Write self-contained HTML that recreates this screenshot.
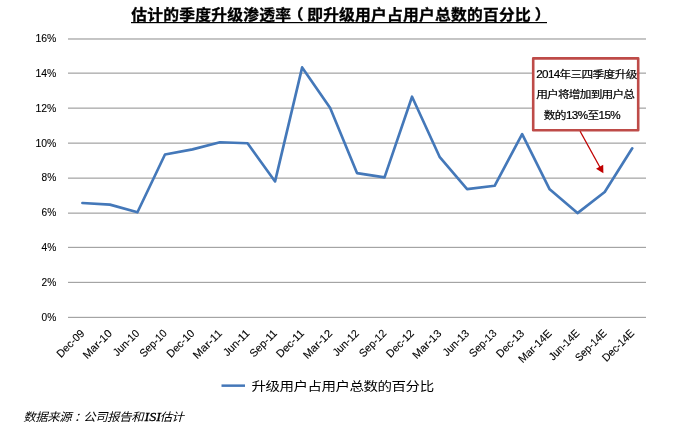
<!DOCTYPE html>
<html lang="zh-CN"><head><meta charset="utf-8"><title>估计的季度升级渗透率</title>
<style>html,body{margin:0;padding:0;background:#fff;}body{width:678px;height:429px;overflow:hidden;}svg{display:block;}</style>
</head><body>
<svg width="678" height="429" viewBox="0 0 678 429">
<rect x="0" y="0" width="678" height="429" fill="#ffffff"/>
<text transform="translate(131.2 19.7) scale(1.08 1)" x="0" y="0" font-family='"Liberation Sans", "Noto Sans CJK SC", sans-serif' font-size="14.6" letter-spacing="0.215" font-weight="bold" fill="#000" stroke="#000" stroke-width="0.3">估计的季度升级渗透率<tspan dx="-3.2">（</tspan><tspan dx="3.2">即升级用户占用户总数的百分比</tspan><tspan dx="3.4">）</tspan></text>
<rect x="131" y="22" width="416" height="1.2" fill="#000"/>
<g shape-rendering="crispEdges">
<rect x="68" y="316" width="578" height="1" fill="#eeeeee"/><rect x="68" y="317" width="578" height="1" fill="#a4a4a4"/>
<rect x="68" y="281" width="578" height="1" fill="#eeeeee"/><rect x="68" y="282" width="578" height="1" fill="#a4a4a4"/>
<rect x="68" y="246" width="578" height="1" fill="#eeeeee"/><rect x="68" y="247" width="578" height="1" fill="#a4a4a4"/>
<rect x="68" y="212" width="578" height="1" fill="#d4d4d4"/><rect x="68" y="213" width="578" height="1" fill="#b9b9b9"/>
<rect x="68" y="177" width="578" height="1" fill="#d4d4d4"/><rect x="68" y="178" width="578" height="1" fill="#b9b9b9"/>
<rect x="68" y="142" width="578" height="1" fill="#d4d4d4"/><rect x="68" y="143" width="578" height="1" fill="#b9b9b9"/>
<rect x="68" y="107" width="578" height="1" fill="#d4d4d4"/><rect x="68" y="108" width="578" height="1" fill="#b9b9b9"/>
<rect x="68" y="72" width="578" height="1" fill="#d4d4d4"/><rect x="68" y="73" width="578" height="1" fill="#b9b9b9"/>
<rect x="68" y="38" width="578" height="1" fill="#c4c4c4"/><rect x="68" y="39" width="578" height="1" fill="#c6c6c6"/>
</g>
<text x="41.60" y="321.20" font-family='"Liberation Sans", "Noto Sans CJK SC", sans-serif' font-size="10.9" fill="#000" stroke="#000" stroke-width="0.1" textLength="14.7" lengthAdjust="spacingAndGlyphs">0%</text>
<text x="41.60" y="286.26" font-family='"Liberation Sans", "Noto Sans CJK SC", sans-serif' font-size="10.9" fill="#000" stroke="#000" stroke-width="0.1" textLength="14.7" lengthAdjust="spacingAndGlyphs">2%</text>
<text x="41.60" y="251.32" font-family='"Liberation Sans", "Noto Sans CJK SC", sans-serif' font-size="10.9" fill="#000" stroke="#000" stroke-width="0.1" textLength="14.7" lengthAdjust="spacingAndGlyphs">4%</text>
<text x="41.60" y="216.39" font-family='"Liberation Sans", "Noto Sans CJK SC", sans-serif' font-size="10.9" fill="#000" stroke="#000" stroke-width="0.1" textLength="14.7" lengthAdjust="spacingAndGlyphs">6%</text>
<text x="41.60" y="181.45" font-family='"Liberation Sans", "Noto Sans CJK SC", sans-serif' font-size="10.9" fill="#000" stroke="#000" stroke-width="0.1" textLength="14.7" lengthAdjust="spacingAndGlyphs">8%</text>
<text x="35.40" y="146.51" font-family='"Liberation Sans", "Noto Sans CJK SC", sans-serif' font-size="10.9" fill="#000" stroke="#000" stroke-width="0.1" textLength="20.9" lengthAdjust="spacingAndGlyphs">10%</text>
<text x="35.40" y="111.57" font-family='"Liberation Sans", "Noto Sans CJK SC", sans-serif' font-size="10.9" fill="#000" stroke="#000" stroke-width="0.1" textLength="20.9" lengthAdjust="spacingAndGlyphs">12%</text>
<text x="35.40" y="76.64" font-family='"Liberation Sans", "Noto Sans CJK SC", sans-serif' font-size="10.9" fill="#000" stroke="#000" stroke-width="0.1" textLength="20.9" lengthAdjust="spacingAndGlyphs">14%</text>
<text x="35.40" y="41.70" font-family='"Liberation Sans", "Noto Sans CJK SC", sans-serif' font-size="10.9" fill="#000" stroke="#000" stroke-width="0.1" textLength="20.9" lengthAdjust="spacingAndGlyphs">16%</text>
<text transform="translate(85.11 334.0) rotate(-45)" x="-34.27" y="0" font-family='"Liberation Sans", "Noto Sans CJK SC", sans-serif' font-size="10.9" fill="#000" stroke="#000" stroke-width="0.1" textLength="34.27" lengthAdjust="spacingAndGlyphs">Dec-09</text>
<text transform="translate(112.64 334.0) rotate(-45)" x="-36.03" y="0" font-family='"Liberation Sans", "Noto Sans CJK SC", sans-serif' font-size="10.9" fill="#000" stroke="#000" stroke-width="0.1" textLength="36.03" lengthAdjust="spacingAndGlyphs">Mar-10</text>
<text transform="translate(140.16 334.0) rotate(-45)" x="-32.27" y="0" font-family='"Liberation Sans", "Noto Sans CJK SC", sans-serif' font-size="10.9" fill="#000" stroke="#000" stroke-width="0.1" textLength="32.27" lengthAdjust="spacingAndGlyphs">Jun-10</text>
<text transform="translate(167.68 334.0) rotate(-45)" x="-33.63" y="0" font-family='"Liberation Sans", "Noto Sans CJK SC", sans-serif' font-size="10.9" fill="#000" stroke="#000" stroke-width="0.1" textLength="33.63" lengthAdjust="spacingAndGlyphs">Sep-10</text>
<text transform="translate(195.21 334.0) rotate(-45)" x="-34.27" y="0" font-family='"Liberation Sans", "Noto Sans CJK SC", sans-serif' font-size="10.9" fill="#000" stroke="#000" stroke-width="0.1" textLength="34.27" lengthAdjust="spacingAndGlyphs">Dec-10</text>
<text transform="translate(222.73 334.0) rotate(-45)" x="-36.03" y="0" font-family='"Liberation Sans", "Noto Sans CJK SC", sans-serif' font-size="10.9" fill="#000" stroke="#000" stroke-width="0.1" textLength="36.03" lengthAdjust="spacingAndGlyphs">Mar-11</text>
<text transform="translate(250.25 334.0) rotate(-45)" x="-32.27" y="0" font-family='"Liberation Sans", "Noto Sans CJK SC", sans-serif' font-size="10.9" fill="#000" stroke="#000" stroke-width="0.1" textLength="32.27" lengthAdjust="spacingAndGlyphs">Jun-11</text>
<text transform="translate(277.78 334.0) rotate(-45)" x="-33.63" y="0" font-family='"Liberation Sans", "Noto Sans CJK SC", sans-serif' font-size="10.9" fill="#000" stroke="#000" stroke-width="0.1" textLength="33.63" lengthAdjust="spacingAndGlyphs">Sep-11</text>
<text transform="translate(304.85 334.0) rotate(-45)" x="-34.27" y="0" font-family='"Liberation Sans", "Noto Sans CJK SC", sans-serif' font-size="10.9" fill="#000" stroke="#000" stroke-width="0.1" textLength="34.27" lengthAdjust="spacingAndGlyphs">Dec-11</text>
<text transform="translate(332.88 334.0) rotate(-45)" x="-36.03" y="0" font-family='"Liberation Sans", "Noto Sans CJK SC", sans-serif' font-size="10.9" fill="#000" stroke="#000" stroke-width="0.1" textLength="36.03" lengthAdjust="spacingAndGlyphs">Mar-12</text>
<text transform="translate(359.70 334.0) rotate(-45)" x="-32.27" y="0" font-family='"Liberation Sans", "Noto Sans CJK SC", sans-serif' font-size="10.9" fill="#000" stroke="#000" stroke-width="0.1" textLength="32.27" lengthAdjust="spacingAndGlyphs">Jun-12</text>
<text transform="translate(387.22 334.0) rotate(-45)" x="-33.63" y="0" font-family='"Liberation Sans", "Noto Sans CJK SC", sans-serif' font-size="10.9" fill="#000" stroke="#000" stroke-width="0.1" textLength="33.63" lengthAdjust="spacingAndGlyphs">Sep-12</text>
<text transform="translate(414.75 334.0) rotate(-45)" x="-34.27" y="0" font-family='"Liberation Sans", "Noto Sans CJK SC", sans-serif' font-size="10.9" fill="#000" stroke="#000" stroke-width="0.1" textLength="34.27" lengthAdjust="spacingAndGlyphs">Dec-12</text>
<text transform="translate(442.27 334.0) rotate(-45)" x="-36.03" y="0" font-family='"Liberation Sans", "Noto Sans CJK SC", sans-serif' font-size="10.9" fill="#000" stroke="#000" stroke-width="0.1" textLength="36.03" lengthAdjust="spacingAndGlyphs">Mar-13</text>
<text transform="translate(469.80 334.0) rotate(-45)" x="-32.27" y="0" font-family='"Liberation Sans", "Noto Sans CJK SC", sans-serif' font-size="10.9" fill="#000" stroke="#000" stroke-width="0.1" textLength="32.27" lengthAdjust="spacingAndGlyphs">Jun-13</text>
<text transform="translate(497.32 334.0) rotate(-45)" x="-33.63" y="0" font-family='"Liberation Sans", "Noto Sans CJK SC", sans-serif' font-size="10.9" fill="#000" stroke="#000" stroke-width="0.1" textLength="33.63" lengthAdjust="spacingAndGlyphs">Sep-13</text>
<text transform="translate(524.84 334.0) rotate(-45)" x="-34.27" y="0" font-family='"Liberation Sans", "Noto Sans CJK SC", sans-serif' font-size="10.9" fill="#000" stroke="#000" stroke-width="0.1" textLength="34.27" lengthAdjust="spacingAndGlyphs">Dec-13</text>
<text transform="translate(552.37 334.0) rotate(-45)" x="-41.89" y="0" font-family='"Liberation Sans", "Noto Sans CJK SC", sans-serif' font-size="10.9" fill="#000" stroke="#000" stroke-width="0.1" textLength="41.89" lengthAdjust="spacingAndGlyphs">Mar-14E</text>
<text transform="translate(580.19 334.0) rotate(-45)" x="-38.13" y="0" font-family='"Liberation Sans", "Noto Sans CJK SC", sans-serif' font-size="10.9" fill="#000" stroke="#000" stroke-width="0.1" textLength="38.13" lengthAdjust="spacingAndGlyphs">Jun-14E</text>
<text transform="translate(607.41 334.0) rotate(-45)" x="-39.49" y="0" font-family='"Liberation Sans", "Noto Sans CJK SC", sans-serif' font-size="10.9" fill="#000" stroke="#000" stroke-width="0.1" textLength="39.49" lengthAdjust="spacingAndGlyphs">Sep-14E</text>
<text transform="translate(634.94 334.0) rotate(-45)" x="-40.12" y="0" font-family='"Liberation Sans", "Noto Sans CJK SC", sans-serif' font-size="10.9" fill="#000" stroke="#000" stroke-width="0.1" textLength="40.12" lengthAdjust="spacingAndGlyphs">Dec-14E</text>
<polyline points="82.41,203.00 109.94,204.60 137.46,212.30 164.98,154.50 192.51,149.40 220.03,142.30 247.55,143.20 275.08,181.40 302.15,67.40 330.18,108.00 357.00,173.10 384.52,177.40 412.05,96.70 439.57,156.80 467.10,189.10 494.62,185.80 522.14,134.10 549.67,189.30 577.49,213.10 604.71,192.00 632.24,148.30" fill="none" stroke="#4478b9" stroke-width="2.65" stroke-linejoin="round" stroke-linecap="round"/>
<rect x="533.2" y="58.4" width="105.0" height="71.8" fill="#ffffff" stroke="#be4b48" stroke-width="2.6" stroke-linejoin="round"/>
<text transform="translate(536.3 78.2) scale(1.1 1)" x="0" y="0" font-family='"Liberation Sans", "Noto Sans CJK SC", sans-serif' font-size="10.6" fill="#000" stroke="#000" stroke-width="0.2" textLength="91.82" lengthAdjust="spacing">2014年三四季度升级</text>
<text transform="translate(536.2 97.8) scale(1.1 1)" x="0" y="0" font-family='"Liberation Sans", "Noto Sans CJK SC", sans-serif' font-size="10.6" fill="#000" stroke="#000" stroke-width="0.2" textLength="89.82" lengthAdjust="spacing">用户将增加到用户总</text>
<text transform="translate(543.8 118.6) scale(1.1 1)" x="0" y="0" font-family='"Liberation Sans", "Noto Sans CJK SC", sans-serif' font-size="10.6" fill="#000" stroke="#000" stroke-width="0.2" textLength="69.91" lengthAdjust="spacing">数的13%至15%</text>
<line x1="580.1" y1="131.3" x2="600.5" y2="168.3" stroke="#c00000" stroke-width="1.3"/>
<polygon points="603.4,173.3 596.0,168.7 603.2,164.8" fill="#c00000"/>
<line x1="221.5" y1="385.65" x2="245.0" y2="385.65" stroke="#4477b8" stroke-width="2.5"/>
<text transform="translate(251.6 391.4) scale(1.18 1)" x="0" y="0" font-family='"Liberation Sans", "Noto Sans CJK SC", sans-serif' font-size="12.3" letter-spacing="-0.42" fill="#000">升级用户占用户总数的百分比</text>
<text transform="translate(23.3 421) scale(1.08 1)" x="0" y="0" font-family='"Liberation Serif", "Noto Sans CJK SC", sans-serif' font-size="11.5" letter-spacing="-0.39" font-style="italic" fill="#000">数据来源<tspan dx="2.5">：</tspan><tspan dx="-2.5">公司报告和</tspan><tspan dx="1.3" font-size="13" letter-spacing="0" stroke="#000" stroke-width="0.3">ISI</tspan><tspan dx="-1.2">估计</tspan></text>
</svg>
</body></html>
